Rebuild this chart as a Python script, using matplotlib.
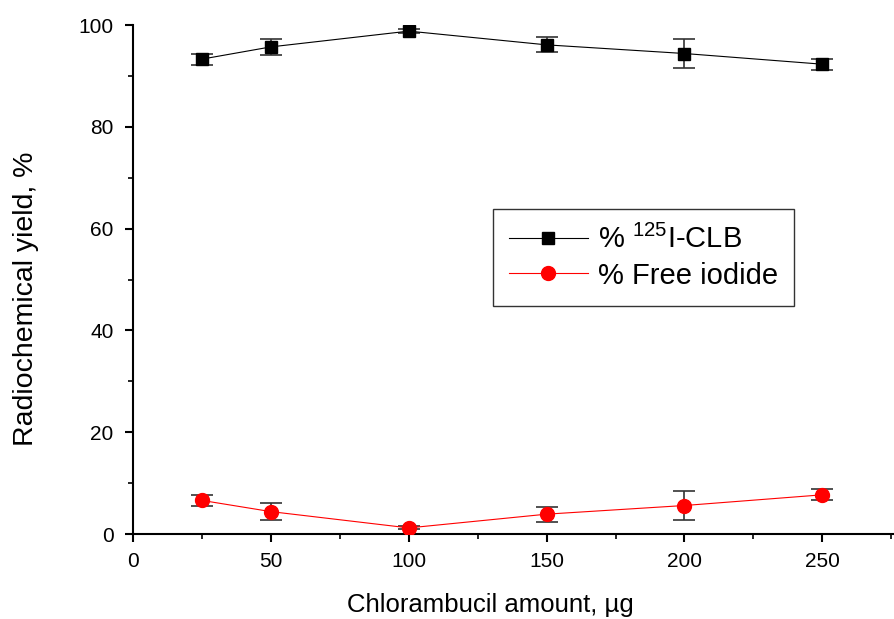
import matplotlib
matplotlib.use("Agg")
import matplotlib.pyplot as plt
from matplotlib.ticker import MultipleLocator

plt.rcParams['font.family'] = ['Liberation Sans', 'DejaVu Sans']
plt.rcParams['mathtext.fontset'] = 'custom'
plt.rcParams['mathtext.rm'] = 'Liberation Sans'
plt.rcParams['mathtext.it'] = 'Liberation Sans:italic'

amount = [25, 50, 100, 150, 200, 250]
clb_yield = [93.3, 95.7, 98.8, 96.1, 94.4, 92.3]
clb_err = [1.1, 1.5, 0.4, 1.5, 2.8, 1.1]
free_iodide = [6.6, 4.4, 1.2, 3.9, 5.6, 7.7]
free_err = [1.1, 1.6, 0.3, 1.45, 2.8, 1.1]

fig = plt.figure(figsize=(8.94, 6.19), dpi=100)
ax = fig.add_axes([0.1488, 0.1373, 0.8512, 0.8223])

c1 = ax.errorbar(amount, clb_yield, yerr=clb_err, color='black', lw=0.8,
                 marker='s', markersize=8.5, mfc='black', mec='black',
                 ecolor='#333333', elinewidth=1.2, capsize=8, capthick=1.2,
                 zorder=3)
c2 = ax.errorbar(amount, free_iodide, yerr=free_err, color='red', lw=0.8,
                 marker='o', markersize=10, mfc='red', mec='red',
                 ecolor='#333333', elinewidth=1.2, capsize=8, capthick=1.2,
                 zorder=3)

ax.set_xlim(0, 276)
ax.set_ylim(0, 100)
ax.xaxis.set_major_locator(MultipleLocator(50))
ax.xaxis.set_minor_locator(MultipleLocator(25))
ax.yaxis.set_major_locator(MultipleLocator(20))
ax.yaxis.set_minor_locator(MultipleLocator(10))
ax.tick_params(which='major', direction='out', length=6, width=1.5, labelsize=15)
ax.tick_params(axis='y', which='major', pad=8)
ax.tick_params(axis='x', which='major', pad=7)
ax.tick_params(which='minor', direction='out', length=3.5, width=1.2)
for s in ['top', 'right']:
    ax.spines[s].set_visible(False)
for s in ['left', 'bottom']:
    ax.spines[s].set_linewidth(1.5)

ax.set_xlabel('Chlorambucil amount, µg', fontsize=18.5, va='center')
ax.xaxis.set_label_coords(0.470, -0.1395)
ax.set_ylabel('Radiochemical yield, %', fontsize=20.5, va='center')
ax.yaxis.set_label_coords(-0.140, 0.462)

leg = ax.legend([c1[0], c2[0]], ['% $^{125}$I-CLB', '% Free iodide'],
                loc='upper left', bbox_to_anchor=(0.473, 0.6385), borderaxespad=0,
                fontsize=21, frameon=True, fancybox=False, edgecolor='black',
                handlelength=2.7, handletextpad=0.35, borderpad=0.55, labelspacing=0.25,
                numpoints=1)
leg.get_frame().set_linewidth(1.0)

fig.savefig('out.png', dpi=100)
